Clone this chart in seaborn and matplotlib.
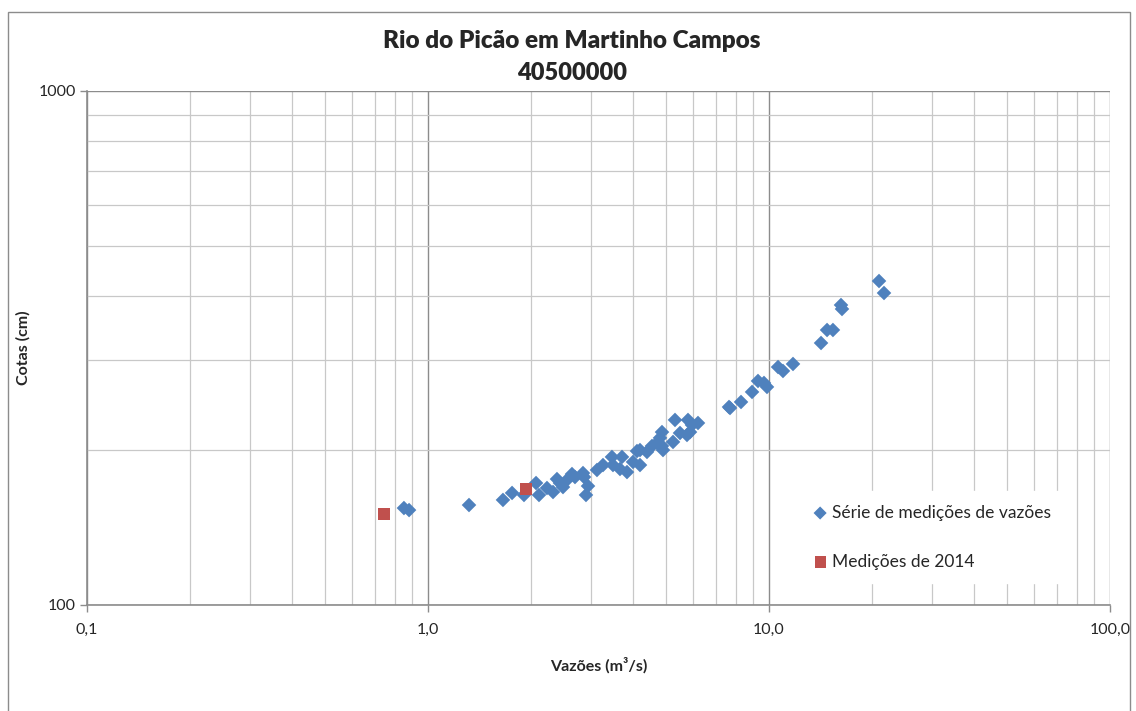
import matplotlib.pyplot as plt
import numpy as np
import pandas as pd
import seaborn as sns
from matplotlib.patches import Rectangle
from matplotlib.ticker import FixedLocator, FixedFormatter, NullFormatter

# Série de medições de vazões (vazão m3/s, cota cm)
vazao_serie = [0.850, 0.880, 1.319, 1.659, 1.764, 1.912, 2.074, 2.116, 2.233, 2.326,
               2.389, 2.438, 2.488, 2.556, 2.644, 2.698, 2.848, 2.868, 2.946, 2.906,
               3.130, 3.260, 3.463, 3.487, 3.656, 3.706, 3.833, 3.992, 4.101, 4.185,
               4.185, 4.387, 4.538, 4.694, 4.790, 4.855, 4.855, 4.888, 5.230, 5.301,
               5.483, 5.748, 5.787, 5.866, 5.945, 6.191, 7.633, 7.685, 8.278, 8.918,
               9.284, 9.667, 9.865, 10.63, 10.99, 11.76, 14.21, 14.80, 15.40, 16.26,
               16.37, 21.02, 21.74]
cota_serie = [154.4, 153.0, 156.5, 160.1, 165.2, 163.7, 172.7, 163.7, 168.9, 165.9,
              175.8, 172.7, 169.6, 175.1, 179.8, 177.4, 180.6, 177.4, 170.4, 163.7,
              183.1, 187.2, 194.1, 187.2, 183.9, 194.1, 181.4, 189.8, 199.3, 187.2,
              200.2, 198.5, 203.9, 206.7, 211.4, 217.0, 203.9, 200.2, 207.6, 229.1,
              216.1, 214.2, 229.1, 217.0, 224.0, 226.0, 242.8, 241.7, 248.3, 259.7,
              272.8, 270.4, 265.6, 290.4, 285.3, 294.4, 323.4, 342.8, 342.8, 383.4,
              376.6, 426.9, 404.6]

# Medições de 2014
vazao_2014 = [0.743, 1.94]
cota_2014 = [150.3, 168.0]

x_ticks = [0.1, 1, 10, 100]
x_labels = ['0,1', '1,0', '10,0', '100,0']
y_ticks = [100, 1000]
y_labels = ['100', '1000']

serie = pd.DataFrame({'vazao': vazao_serie, 'cota': cota_serie})
med2014 = pd.DataFrame({'vazao': vazao_2014, 'cota': cota_2014})

sns.set_style('white')
plt.rcParams['font.family'] = ['Lato', 'DejaVu Sans']

fig = plt.figure(figsize=(11.36, 7.11), dpi=100)
ax = fig.add_axes([87 / 1136, 1 - 605 / 711, (1110 - 87) / 1136, (605 - 91) / 711])

ax.set_xscale('log')
ax.set_yscale('log')
ax.set_xlim(0.1, 100)
ax.set_ylim(100, 1000)

# grid
minor_x = [m * 10.0 ** e for e in (-1, 0, 1) for m in range(2, 10)]
minor_y = [m * 100.0 for m in range(2, 10)]
ax.xaxis.set_major_locator(FixedLocator(x_ticks))
ax.xaxis.set_major_formatter(FixedFormatter(x_labels))
ax.xaxis.set_minor_locator(FixedLocator(minor_x))
ax.xaxis.set_minor_formatter(NullFormatter())
ax.yaxis.set_major_locator(FixedLocator(y_ticks))
ax.yaxis.set_major_formatter(FixedFormatter(y_labels))
ax.yaxis.set_minor_locator(FixedLocator(minor_y))
ax.yaxis.set_minor_formatter(NullFormatter())
ax.grid(True, which='major', color='#8c8c8c', lw=1.0, zorder=0)
ax.grid(True, which='minor', color='#c8c8c8', lw=0.9, zorder=0)
ax.set_axisbelow(True)

ax.tick_params(which='major', direction='out', length=5, width=1, color='#8c8c8c',
               labelsize=11.5, left=True, bottom=True)
ax.tick_params(axis='y', pad=3)
ax.tick_params(axis='x', pad=8)
ax.tick_params(which='minor', length=0)

for side in ['top', 'right']:
    ax.spines[side].set_visible(False)
for side in ['left', 'bottom']:
    ax.spines[side].set_color('#8c8c8c')
    ax.spines[side].set_linewidth(1.2)

sns.scatterplot(data=serie, x='vazao', y='cota', marker='D', s=55, color='#4F81BD',
                edgecolor='none', ax=ax, label='Série de medições de vazões', zorder=3)
sns.scatterplot(data=med2014, x='vazao', y='cota', marker='s', s=80, color='#C0504D',
                edgecolor='none', ax=ax, label='Medições de 2014', zorder=4)

ax.set_xlabel('Vazões (m³/s)', fontsize=11.5, fontweight='bold')
ax.set_ylabel('Cotas (cm)', fontsize=11.5, fontweight='bold')
ax.xaxis.set_label_coords(0.5, -(657 - 605) / 514)
ax.yaxis.set_label_coords(-(87 - 31) / 1023, 0.5)

leg = ax.legend(loc='upper left', bbox_to_anchor=(788 / 1136, 1 - 482 / 711),
                bbox_transform=fig.transFigure, frameon=True, fontsize=12.5,
                labelspacing=1.9, handletextpad=0.15, borderpad=0.8,
                handlelength=1.1, markerscale=0.9)
leg.get_frame().set_facecolor('white')
leg.get_frame().set_edgecolor('white')
leg.get_frame().set_alpha(1)

fig.text(572 / 1136, 1 - 41 / 711, 'Rio do Picão em Martinho Campos', ha='center',
         va='center', fontsize=17.5, fontweight='heavy')
fig.text(572 / 1136, 1 - 73 / 711, '40500000', ha='center', va='center',
         fontsize=17, fontweight='heavy')

# chart area border
fig.patches.append(Rectangle((8 / 1136, -0.05), (1130 - 8) / 1136, 1.05 - 12 / 711,
                             transform=fig.transFigure, fill=False,
                             edgecolor='#8c8c8c', lw=1.0))

plt.savefig('out.png', dpi=100)
